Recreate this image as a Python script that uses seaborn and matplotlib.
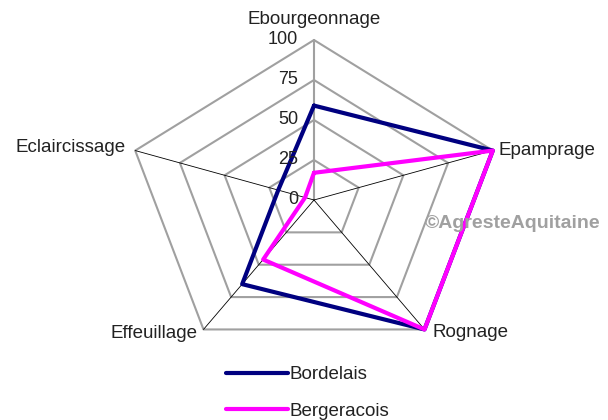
import numpy as np
import matplotlib
matplotlib.use("Agg")
import matplotlib.pyplot as plt
import seaborn as sns

categories = ["Ebourgeonnage", "Epamprage", "Rognage", "Effeuillage", "Eclaircissage"]
bordelais = [59, 100, 100, 65, 20]
bergeracois = [17, 100, 100, 46, 5]
ticks = [0, 25, 50, 75, 100]
series_names = ["Bordelais", "Bergeracois"]
series_colors = ["#000080", "#FF00FF"]

sns.set_style("white")
plt.rcParams["font.family"] = ["Liberation Sans", "DejaVu Sans"]

# radar drawn on a plain axes: x = r*sin(theta), y = r*cos(theta)
angles = np.arange(len(categories)) * 2 * np.pi / len(categories)


def to_xy(values):
    v = np.append(values, values[0])
    a = np.append(angles, angles[0])
    return v * np.sin(a), v * np.cos(a)


fig = plt.figure(figsize=(6.08, 4.2), dpi=100)
ax = fig.add_axes([0, 0, 1, 1])

# pixel scale of the original (wider than tall)
sx, sy, cx, cy = 1.88, 1.60, 314, 200
ax.set_xlim(-cx / sx, (608 - cx) / sx)
ax.set_ylim(-(420 - cy) / sy, cy / sy)
ax.axis("off")

# grid
for t in ticks[1:]:
    gx, gy = to_xy([t] * len(categories))
    ax.plot(gx, gy, color="#A0A0A0", lw=1.5, zorder=1)
for k, a in enumerate(angles):
    if k == 0:
        ax.plot([0, 0], [0, 100], color="#A0A0A0", lw=1.5, zorder=1)
    else:
        ax.plot([0, 100 * np.sin(a)], [0, 100 * np.cos(a)], color="black", lw=0.6, zorder=1)

# series
for name, vals, col in zip(series_names, [bordelais, bergeracois], series_colors):
    px, py = to_xy(vals)
    sns.lineplot(x=px, y=py, sort=False, estimator=None, color=col, lw=3, ax=ax,
                 label=name, zorder=3)

# value labels
for t in ticks:
    ax.annotate(str(t), xy=(0, t), xytext=(-16, 0), textcoords="offset pixels",
                ha="right", va="center", fontsize=13, color="#222222")

# category labels
offsets = [(0, 20, "center"), (6, 0, "left"), (8, -3, "left"), (-6, -4, "right"), (-10, 3, "right")]
for cat, a, (dx, dy, ha) in zip(categories, angles, offsets):
    ax.annotate(cat, xy=(100 * np.sin(a), 100 * np.cos(a)), xytext=(dx, dy),
                textcoords="offset pixels", ha=ha, va="center", fontsize=13.5, color="#222222")

ax.text((425 - cx) / sx, (cy - 223) / sy, "\u00a9AgresteAquitaine", fontsize=14,
        fontweight="bold", color="#A0A0A0", ha="left", va="center")

leg = ax.legend(loc="upper left", bbox_to_anchor=(226 / 608, 1 - 366 / 420),
                bbox_transform=fig.transFigure, frameon=False, fontsize=13.5,
                handlelength=3.3, handletextpad=0.1, labelspacing=1.05,
                borderpad=0, borderaxespad=0)
for txt in leg.get_texts():
    txt.set_color("#222222")

fig.savefig("out.png", dpi=100)
